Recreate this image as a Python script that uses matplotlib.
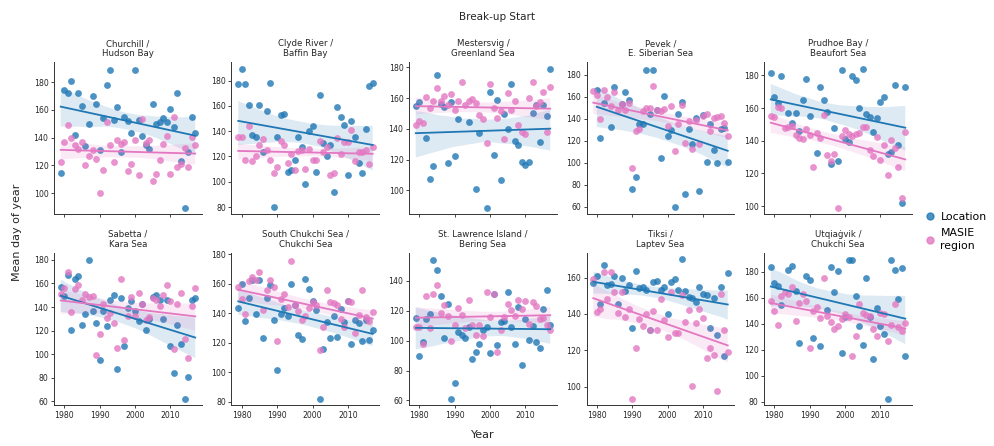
import numpy as np
import matplotlib
matplotlib.use("Agg")
import matplotlib.pyplot as plt
import seaborn as sns
from matplotlib.lines import Line2D
from matplotlib.ticker import MultipleLocator

BLUE = "#1f77b4"
PINK = "#e377c2"
nan = np.nan

years = np.arange(1979, 2018)

churchill_loc = [114.7, 174, 172, 181, 142, 172, 162.5, 134, 150, 170, 164, 131, 154, 178, 189, 153,
                 162, 130, 155, 152, 143, 189, 153, 141.5, 134.5, 132, 164, 150, 151, 154, 151,
                 160.5, 147.5, 172, 123, 89.5, 129.5, 154.6, 143.4]
hudson_masie = [122.6, 136.7, 149.4, 139.6, 135, 132, 137, 120, 126.6, 131.4, 124.3, 100, 117, 151.5,
                135, 122.3, 138, 135.7, 137, 116, 120.7, 138, 113.5, 153.4, 136, 138, 109, 114, 124,
                135.7, 141, 114, 155, 119, 120.7, 132.6, 119, 140.5, 134.5]

clyde_loc = [177.6, 189, 177.6, 161, 136.6, 135.5, 161, 123.4, 156, 178.4, 80, 135.3, 152.9, 153.2,
             107.6, 109.7, 117.4, 135.8, 127.6, 98, 140, 144.2, 107.6, 169, 130.5, 120.5, 129.2,
             91.6, 158.8, 151, 144.7, 105.3, 148, 135.3, 114.5, 107.1, 141.8, 175.5, 178]
baffin_masie = [135.3, 135.5, 117, 144, 116.3, 120, 128.7, 134, 125.5, 117, 106.6, 111.8, 132.6, 128.7,
                115, 121.8, 109, 124, 125, 110.5, 126.3, 117.6, 117.6, 132.6, 123.4, 127.6, 105.3,
                107, 134.5, 122, 131.6, 131.3, 141.3, 116.3, 123.7, 123.7, 125.5, 114.2, 127.4]

mestersvig_loc = [155.1, 157.5, nan, 134, 107.5, 115.5, 175, 156.4, 154, 117.5, 157.3, 122.2, 146.5,
                  nan, nan, 144.3, nan, 101, 137.4, nan, 88.7, 164.2, 122.9, 158.8, 106.4, 149.7,
                  140.2, 169, 132, 129.6, 118.5, 116.4, 118.5, 150.3, 155.8, 131.5, 155.3, 148.2, 179]
greenland_masie = [142.3, 145.2, 144, 161, 153.4, 158, 166.8, 158, 161.2, 155.8, 162.9, 152, 158.4,
                   170.3, 155.8, 158.4, 159.2, 156.8, 148.8, 146.4, 131, 169.4, 153.4, 147.3, 151.9,
                   133.7, 163.3, 152.5, 158, 142.8, 138, 136.7, 159.9, 170.3, 154.7, 157.3, 164.2,
                   137.8, 167.2]

pevek_loc = [nan, 166.1, 122.6, 154.3, nan, 132.3, 168.8, nan, 153.1, 164, 156.7, 76.4, 87.3, 135.6,
             135, 184.5, 144.4, 184.5, 148.3, 103.9, 161, 124.1, 129.5, 59.5, 144, 155.5, 71.2, 130.8,
             116.6, 140.4, 74.6, 143.7, 101.1, 135, 112, 100.2, 131.1, 131.4, 100.5]
esiberian_masie = [164.9, 161.9, 139.8, 166.1, 159.5, 151.9, 164.3, 148.3, 153.4, 148.3, 154.3, 95.4,
                   128.6, 130.8, 146.8, 149.5, 150.1, 170, 148.3, 147.4, 149.2, 133.8, 151.6, 110.5,
                   135.6, 152.8, 117.8, 137.7, 112.6, 139.2, 116.6, 142.8, 144.7, 129.2, 140.4, 141.3,
                   142.2, 136.2, 124.1]

prudhoe_loc = [181.4, 166.6, 163.1, 179.4, nan, 157, 150.7, 156.8, 145.7, 165, 177.8, 155.4, nan,
               132.8, 172.9, 165, 157.4, 126.1, 147.7, 127.6, 183, 140.8, 139.1, 179.6, 177.4, 160.3,
               183.9, 156.6, 154.6, 145.2, 153.6, 163.5, 166.8, 132.2, 133, 173.9, 137.1, 102.2, 173.1]
beaufort_masie = [155.4, 154.6, 160.7, 159.7, 147.5, 148.3, 149.3, 143.4, 141.8, 141, 147.3, 143.8,
                  124.1, 144.6, 141.8, 155.6, 131.4, 127.4, 132, 99.1, 142.6, 146.5, 144.2, 142.6,
                  144.4, 144.6, 148.5, 148.7, 134.3, 130.4, 142.4, 128.2, 137.3, 118.8, 140.4, 135.5,
                  124.1, 104.8, 145.4]

sabetta_loc = [157, 149.3, 166.9, 120.3, 163.5, 166, 125.1, 134.5, 180.3, 136.8, 126.2, 94.7, 136.5,
               124, 146.4, 150.1, 87.5, 147.3, 106.6, 139.6, 145, 136.5, 128, 142.4, 120.3, 130.2,
               148.4, 150.1, 146.4, 129.9, 146.4, 106.6, 84.1, 124.8, 108.3, 62.2, 80.7, 146.4, 147.3]
kara_masie = [150.7, 155.8, 169.8, 135.6, 155, 158.4, 146.4, 151, 148.7, 149.6, 98.9, 117.1, 143,
              130.8, 134.8, 126.5, 104.9, 163.5, 112.3, 132.2, 148.7, 132.8, 151.8, 142.2, 129.4,
              131.6, 147.9, 146.4, 140.5, 149.8, 158.4, 145, 104.3, 142.2, 152.1, 112.6, 96.6, 141.3,
              155.8]

schukchi_loc = [143.6, 159.6, 134.8, 149.9, 162.2, 139.1, 162.7, 123.1, 149.9, 159.3, 135.1, 101.8,
                139.6, 143.6, 137.8, 159.8, 145.4, 124.9, 122.7, 163.4, 156.2, 148.1, 141.8, 82,
                115.7, 133.9, 123.1, 137.8, 123.8, 142.9, 134.2, 148.5, 118.9, 135.1, 133.3, 121.1,
                135.1, 121.6, 128.3]
chukchi_masie = [157.6, 149.6, 139.3, 161.6, 164.5, 162.6, 168.1, 142.3, 155.6, 162.5, 157.4, 121.1,
                 149.6, 152.6, 144.4, 175.4, 145.7, 141.1, 135.5, 137.9, 143.6, 147.2, 145.2, 115,
                 130.7, 155.3, 147.8, 147, 145.6, 136.2, 130.7, 148.2, 147.4, 126.5, 138.6, 155.3,
                 137.1, 134.4, 140.6]

stlawrence_loc = [114.9, 90, 99, 114.2, 117.8, 154.3, 147.4, 129.7, 102.1, 124.3, 61.3, 71.8, 106.1,
                  103.5, 101.9, 109, 87.5, 92.7, 97.6, 107, 109.3, 91.6, 131, 97, 112.4, 113.3, 132.8,
                  109, 97.6, 122.7, 84, 114.7, 100.5, 109.7, 99, 95.4, 121.2, 133.7, 110.4]
bering_masie = [109.3, 109.3, 97.6, 129.9, 108.4, 131.5, 137.1, 118.7, 123.6, 116.2, 100, 110.2,
                121.8, 116.9, 108.4, 127, 110.4, 103.7, 110.8, 103, 132.4, 115.8, 131, 92.5, 107,
                115.8, 124.5, 120.5, 116.5, 127.2, 121.2, 126.3, 111.5, 125.9, 123.2, 114.7, 115.3,
                110.2, 107]

tiksi_loc = [157.2, 160.9, 145.2, 167, 155.8, 156.3, 160.9, 145.6, 159.6, 152.6, 155.8, 132, 163.7,
             154.1, 154.8, 153, 131, 157.6, 158.2, 153, 154.8, 140, 157.6, 159.4, 153, 170.1, 152.8,
             149.5, 148.9, 146.7, 154.6, 151.1, 150.4, 132, 148.9, 128.5, 154.8, 116.6, 162.4]
laptev_masie = [159.4, 141, 142.8, 163.1, 148.4, 163.1, 152.1, 140.4, 152.1, 138.2, 142.5, 93.4,
                121.1, 137.3, 133.1, 140, 131, 141.5, 131, 148, 136.9, 127.5, 151.9, 129.4, 129.6,
                150.2, 135.5, 141.9, 100.6, 135.1, 142.8, 137.9, 115.5, 121.3, 117.4, 97.6, 150.8,
                131, 118.9]

utqiagvik_loc = [183.9, 171.2, 168.9, 154.7, nan, 181.5, 184.4, 165, 124.8, nan, 176.6, 173.6, 129.2,
                 nan, 123, nan, 150.1, 183.6, 164, 180.5, 117.1, 144.9, 188.8, 189.3, 160.9, 138.5,
                 123.8, 175.4, 144.9, 112.5, 152.2, 138.5, 132.3, 82.3, 189.3, 181, 158.9, 183.1, 114.8]

titles = ["Churchill /\nHudson Bay", "Clyde River /\nBaffin Bay", "Mestersvig /\nGreenland Sea",
          "Pevek /\nE. Siberian Sea", "Prudhoe Bay /\nBeaufort Sea", "Sabetta /\nKara Sea",
          "South Chukchi Sea /\nChukchi Sea", "St. Lawrence Island /\nBering Sea",
          "Tiksi /\nLaptev Sea", "Utqiaġvik /\nChukchi Sea"]
location_series = [churchill_loc, clyde_loc, mestersvig_loc, pevek_loc, prudhoe_loc,
                   sabetta_loc, schukchi_loc, stlawrence_loc, tiksi_loc, utqiagvik_loc]
masie_series = [hudson_masie, baffin_masie, greenland_masie, esiberian_masie, beaufort_masie,
                kara_masie, chukchi_masie, bering_masie, laptev_masie, chukchi_masie]
ylims = [(84.8, 194.4), (74.2, 194.7), (84.3, 183.5), (53.1, 191.5), (95, 188.1),
         (56.8, 186.3), (77.8, 181), (57, 159), (89.9, 173.8), (77.4, 194.7)]

fig, axes = plt.subplots(2, 5, figsize=(9.94, 4.46), dpi=100, sharex=True)
fig.subplots_adjust(left=0.0543, right=0.9175, top=0.861, bottom=0.092, wspace=0.2, hspace=0.25)

for ax, title, loc, masie, ylim in zip(axes.flat, titles, location_series, masie_series, ylims):
    for vals, col in [(loc, BLUE), (masie, PINK)]:
        sns.regplot(x=years, y=np.array(vals, dtype=float), ax=ax, color=col, seed=3,
                    scatter_kws={"s": 24, "linewidths": 0}, line_kws={"lw": 1.3})
    ax.set_title(title, fontsize=6.2, color="#262626", pad=4, linespacing=1.15)
    ax.set_xlabel("")
    ax.set_ylabel("")
    ax.set_xlim(1977.1, 2018.9)
    ax.set_xticks([1980, 1990, 2000, 2010])
    ax.set_ylim(*ylim)
    ax.yaxis.set_major_locator(MultipleLocator(20))
    ax.tick_params(labelsize=5.6, length=2.5, width=0.6, pad=1.5, colors="#262626")
    for side in ["top", "right"]:
        ax.spines[side].set_visible(False)
    for side in ["left", "bottom"]:
        ax.spines[side].set_linewidth(0.7)
        ax.spines[side].set_color("#333333")

fig.suptitle("Break-up Start", fontsize=7.5, y=0.972, color="#262626")
fig.text(0.486, 0.018, "Year", fontsize=8, ha="center", color="#262626")
fig.text(0.012, 0.48, "Mean day of year", fontsize=8, rotation=90, va="center", color="#262626")

handles = [Line2D([], [], marker="o", ls="", color=BLUE, alpha=0.8, markersize=5),
           Line2D([], [], marker="o", ls="", color=PINK, alpha=0.8, markersize=5)]
leg = fig.legend(handles, ["Location", "MASIE\nregion"], loc="upper left",
                 bbox_to_anchor=(0.932, 0.525), frameon=False, fontsize=7.8, handlelength=0.7,
                 handletextpad=0.6, labelspacing=0.6, borderpad=0, borderaxespad=0)
for txt in leg.get_texts():
    txt.set_linespacing(1.35)

fig.savefig("out.png", dpi=100)
